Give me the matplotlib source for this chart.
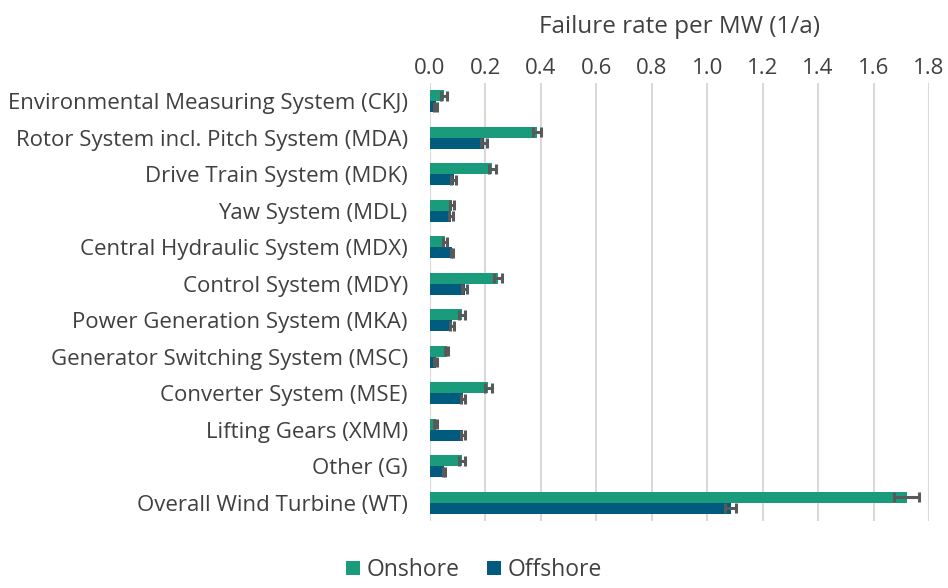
import matplotlib.pyplot as plt
import numpy as np

plt.rcParams['font.family'] = ['Open Sans', 'DejaVu Sans']

categories = [
    'Environmental Measuring System (CKJ)',
    'Rotor System incl. Pitch System (MDA)',
    'Drive Train System (MDK)',
    'Yaw System (MDL)',
    'Central Hydraulic System (MDX)',
    'Control System (MDY)',
    'Power Generation System (MKA)',
    'Generator Switching System (MSC)',
    'Converter System (MSE)',
    'Lifting Gears (XMM)',
    'Other (G)',
    'Overall Wind Turbine (WT)',
]
onshore = [0.05, 0.385, 0.225, 0.08, 0.055, 0.245, 0.115, 0.06, 0.21, 0.02, 0.115, 1.72]
onshore_err = [0.01, 0.015, 0.012, 0.008, 0.008, 0.014, 0.01, 0.006, 0.012, 0.004, 0.01, 0.045]
offshore = [0.02, 0.195, 0.085, 0.075, 0.08, 0.125, 0.08, 0.02, 0.12, 0.12, 0.05, 1.085]
offshore_err = [0.004, 0.01, 0.008, 0.008, 0.004, 0.01, 0.008, 0.004, 0.008, 0.008, 0.004, 0.02]

green = '#1a9b7b'
blue = '#005b7f'
err_color = '#595959'
text_color = '#404040'

fig = plt.figure(figsize=(9.48, 5.88), dpi=100)
ax = fig.add_axes([430 / 948, 1 - 521 / 588, 499 / 948, 438 / 588])

y = np.arange(len(categories))
h = 0.3
ekw = dict(ecolor=err_color, elinewidth=2.2, capsize=3.5, capthick=2.2)
ax.barh(y - h / 2, onshore, height=h, color=green, xerr=onshore_err,
        error_kw=ekw, label='Onshore', zorder=3)
ax.barh(y + h / 2, offshore, height=h, color=blue, xerr=offshore_err,
        error_kw=ekw, label='Offshore', zorder=3)

ax.set_xlim(0, 1.8)
ax.set_ylim(len(categories) - 0.5, -0.5)
ax.set_xticks(np.arange(0, 1.81, 0.2))
ax.set_xticklabels([f'{v:.1f}' for v in np.arange(0, 1.81, 0.2)])
ax.set_yticks(y)
ax.set_yticklabels(categories)
ax.xaxis.tick_top()
ax.xaxis.set_label_position('top')
ax.set_xlabel('Failure rate per MW (1/a)', fontsize=17.5, color=text_color, labelpad=18)
ax.tick_params(axis='both', length=0, labelsize=16, colors=text_color, pad=3)
ax.tick_params(axis='y', pad=16)
ax.grid(axis='x', color='#d9d9d9', linewidth=1.5, zorder=0)
for s in ax.spines.values():
    s.set_visible(False)

fig.legend(loc='lower center', bbox_to_anchor=(0.5, -0.025), ncol=2, frameon=False,
           fontsize=16.5, handlelength=0.6, handleheight=0.6, handletextpad=0.3,
           columnspacing=1.2, labelcolor=text_color)

fig.savefig('out.png', dpi=100)
